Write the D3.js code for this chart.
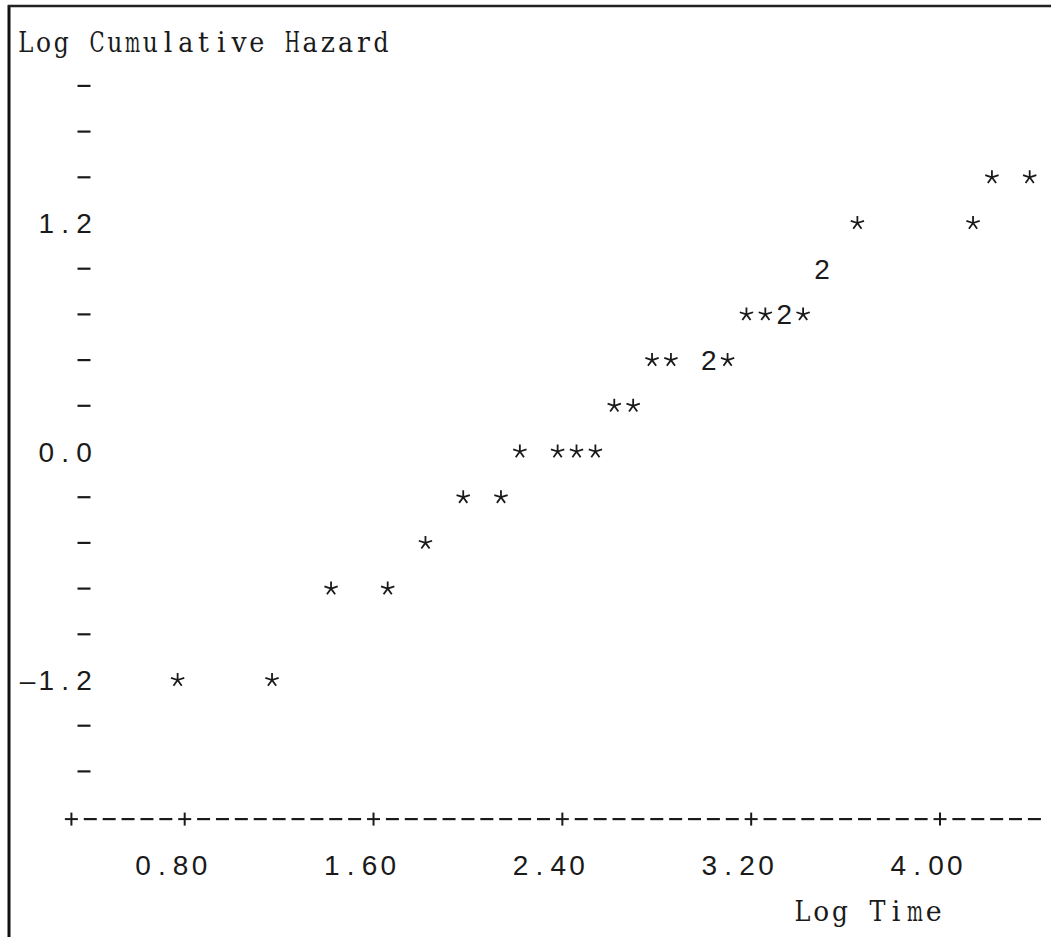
<!DOCTYPE html>
<html>
<head>
<meta charset="utf-8">
<script src="https://cdn.jsdelivr.net/npm/d3@7"></script>
<style>
  body { margin: 0; background: #fff; }
  .serif { font-family: "DejaVu Serif", "Liberation Serif", serif; fill: #1a1a1a; }
  .num { font-family: "Liberation Sans", Arial, sans-serif; fill: #1a1a1a; }
</style>
</head>
<body>
<div id="chart"></div>
<script>
let svgWidth = 1051;
let svgHeight = 937;
let CW = 18.85; // width of one printer column

// Points as printed: one symbol per cell, count 2 = two points in a cell
let logTime   = [0.77, 1.17, 1.42, 1.66, 1.82, 1.98, 2.14, 2.22, 2.38, 2.46, 2.54, 2.62, 2.70,
                 2.78, 2.86, 3.02, 3.10, 3.18, 3.26, 3.34, 3.42, 3.50, 3.65, 4.14, 4.22, 4.38];
let logHazard = [-1.20, -1.20, -0.72, -0.72, -0.48, -0.24, -0.24, 0.00, 0.00, 0.00, 0.00, 0.24, 0.24,
                 0.48, 0.48, 0.48, 0.48, 0.72, 0.72, 0.72, 0.72, 0.96, 1.20, 1.20, 1.44, 1.44];
let counts    = [1, 1, 1, 1, 1, 1, 1, 1, 1, 1, 1, 1, 1,
                 1, 1, 2, 1, 1, 1, 2, 1, 2, 1, 1, 1, 1];

let xTicks = [0.80, 1.60, 2.40, 3.20, 4.00];
let xTickLabels = ["0.80", "1.60", "2.40", "3.20", "4.00"];
let yTicks = [1.2, 0.0, -1.2];
let yTickLabels = ["1.2", "0.0", "\u20131.2"];
let xAxisStart = 0.32, xAxisEnd = 4.40, xStep = 0.08;
let yTop = 1.92, yStep = 0.24, yRows = 16;

let svg = d3.select("#chart").append("svg")
  .attr("width", svgWidth).attr("height", svgHeight);

let x = d3.scaleLinear().domain([0.8, 4.0]).range([184.7, 940]);
let y = d3.scaleLinear().domain([1.2, -1.2]).range([223, 680]);

// frame
svg.append("line").attr("x1", 9).attr("x2", 9).attr("y1", 5).attr("y2", svgHeight)
  .attr("stroke", "#111").attr("stroke-width", 3);
svg.append("line").attr("x1", 8).attr("x2", svgWidth).attr("y1", 6).attr("y2", 6)
  .attr("stroke", "#222").attr("stroke-width", 2.5);

// print a string one glyph per column, centred on xc
let putChars = (g, str, xc, yc, size, cls, pitch) => {
  let n = str.length;
  let p = pitch || CW;
  let sel = g.selectAll(null).data(str.split("")).join("text")
    .attr("class", cls || "num")
    .attr("x", (d, i) => xc + (i - (n - 1) / 2) * p)
    .attr("y", yc + size * 0.36)
    .attr("text-anchor", "middle")
    .attr("font-size", size)
    .text(d => d);
  // squeeze glyphs wider than a column (typewriter m, C, H ...)
  sel.each(function (d, i) {
    let w = this.getComputedTextLength();
    if (w > p * 0.85) {
      let sx = p * 0.85 / w;
      let cx = xc + (i - (n - 1) / 2) * p;
      d3.select(this).attr("x", 0).attr("y", 0)
        .attr("transform", `translate(${cx},${yc + size * 0.36}) scale(${sx},1)`);
    }
  });
};

// titles, typewriter style
let titleG = svg.append("g");
let yTitle = "Log Cumulative Hazard";
putChars(titleG, yTitle, 17 + 373 / 2, 42, 27, "serif", 373 / yTitle.length);
putChars(titleG, "Log Time", 868, 911, 27, "serif", 150 / 8);

// y axis: dashes on every row, labels on the labelled rows
let yAxisCol = 84;
let rowVals = d3.range(yRows).map(i => +(yTop - i * yStep).toFixed(2));
let isLabelled = v => yTicks.some(t => Math.abs(t - v) < 1e-6);

svg.append("g").selectAll("line")
  .data(rowVals.filter(v => !isLabelled(v)))
  .join("line")
  .attr("x1", yAxisCol - 6.5).attr("x2", yAxisCol + 6.5)
  .attr("y1", d => y(d)).attr("y2", d => y(d))
  .attr("stroke", "#1a1a1a").attr("stroke-width", 2.2);

let yLab = svg.append("g");
yTicks.forEach((t, i) => {
  let s = yTickLabels[i];
  putChars(yLab, s, yAxisCol - (s.length - 1) / 2 * CW, y(t), 28);
});

// x axis row: "+" at ticks and ends, "-" in between
let axisY = y(-1.92) + 2;
let cols = d3.range(Math.round((xAxisEnd - xAxisStart) / xStep) + 1).map(i => +(xAxisStart + i * xStep).toFixed(2));
let isTick = v => v === xAxisStart || xTicks.some(t => Math.abs(t - v) < 1e-6);

let axisG = svg.append("g").attr("stroke", "#1a1a1a");
axisG.selectAll("line.dash")
  .data(cols.filter(v => !isTick(v)))
  .join("line").attr("class", "dash")
  .attr("x1", d => x(d) - 6.5).attr("x2", d => x(d) + 6.5)
  .attr("y1", axisY).attr("y2", axisY)
  .attr("stroke-width", 2.2);
let plus = axisG.selectAll("g.plus")
  .data(cols.filter(isTick))
  .join("g").attr("class", "plus")
  .attr("transform", d => `translate(${x(d)},${axisY})`);
plus.append("line").attr("x1", -6.5).attr("x2", 6.5).attr("stroke-width", 2);
plus.append("line").attr("y1", -6.5).attr("y2", 6.5).attr("stroke-width", 2);

let xLab = svg.append("g");
xTicks.forEach((t, i) => putChars(xLab, xTickLabels[i], x(t) - 13.5, 865, 28));

// plotted symbols
let asterisk = {
  draw(ctx, size) {
    let r = Math.sqrt(size);
    for (let k = 0; k < 5; k++) {
      let a = -Math.PI / 2 + k * 2 * Math.PI / 5;
      ctx.moveTo(0, 0);
      ctx.lineTo(r * Math.cos(a), r * Math.sin(a));
    }
  }
};

let pts = logTime.map((t, i) => ({ t: t, h: logHazard[i], n: counts[i] }));

svg.append("g").selectAll("path")
  .data(pts.filter(d => d.n === 1))
  .join("path")
  .attr("transform", d => `translate(${x(d.t)},${y(d.h)})`)
  .attr("d", d3.symbol().type(asterisk).size(49))
  .attr("fill", "none")
  .attr("stroke", "#1a1a1a")
  .attr("stroke-width", 1.8);

svg.append("g").selectAll("text")
  .data(pts.filter(d => d.n > 1))
  .join("text")
  .attr("class", "num")
  .attr("x", d => x(d.t))
  .attr("y", d => y(d.h) + 28 * 0.36)
  .attr("text-anchor", "middle")
  .attr("font-size", 28)
  .text(d => d.n);
</script>
</body>
</html>
